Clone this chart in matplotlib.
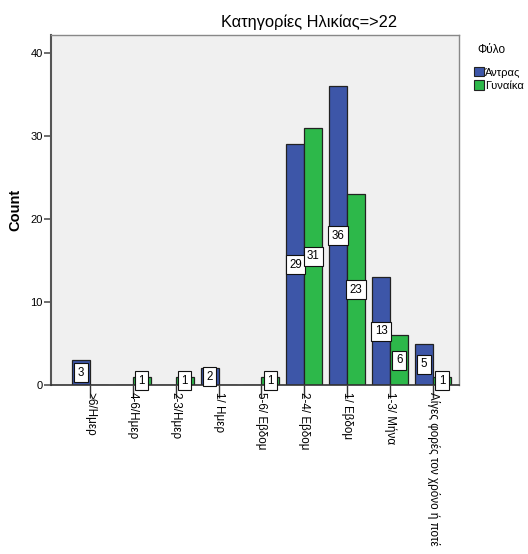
import matplotlib
matplotlib.use("Agg")
import matplotlib.pyplot as plt
import numpy as np
from matplotlib.patches import Patch

plt.rcParams['font.family'] = ['Liberation Sans', 'DejaVu Sans']

title = "Κατηγορίες Ηλικίας=>22"
categories = [">6/Ημερ", "4-6/Ημερ", "2-3/Ημερ", "1/ Ημερ", "5-6/ Εβδομ",
              "2-4/ Εβδομ", "1/ Εβδομ", "1-3/ Μήνα", "Λίγες φορές τον χρόνο ή ποτέ"]
series_names = ["Άντρας", "Γυναίκα"]
men = [3, 0, 0, 2, 0, 29, 36, 13, 5]
women = [0, 1, 1, 0, 1, 31, 23, 6, 1]
yticks = [0, 10, 20, 30, 40]

colors = ["#3d56a8", "#2db84a"]
fig = plt.figure(figsize=(5.28, 5.54), dpi=100)
ax = fig.add_axes([51/528, 1-385/554, 408/528, 350/554])
ax.set_facecolor("#f0f0f0")

x = np.arange(len(categories))
w = 0.42
for vals, off, col in [(men, -w/2, colors[0]), (women, w/2, colors[1])]:
    bars = ax.bar(x + off, vals, width=w, color=col, edgecolor="#222222", linewidth=0.9, zorder=2)
    for b, v in zip(bars, vals):
        if v > 0:
            ax.text(b.get_x() + b.get_width()/2, v/2, str(v), ha="center", va="center",
                    fontsize=8.3, zorder=3,
                    bbox=dict(boxstyle="square,pad=0.3", fc="white", ec="#111111", lw=0.8))

ax.set_xlim(-0.907, 8.605)
ax.set_ylim(0, 42.2)
ax.set_yticks(yticks)
ax.set_yticklabels([str(t) for t in yticks], fontsize=8)
ax.set_xticks(x)
ax.set_xticklabels(categories, rotation=270, fontsize=8.4, ha="center", va="top")
ax.tick_params(axis="x", length=9, width=1.0, color="#333333", pad=-4, direction="out")
ax.tick_params(axis="y", length=5, width=1.2, color="#555555", pad=1)
for s in ["top", "right"]:
    ax.spines[s].set_color("#888888")
    ax.spines[s].set_linewidth(1.0)
ax.spines["left"].set_color("#555555")
ax.spines["left"].set_linewidth(1.5)
ax.spines["bottom"].set_color("#333333")
ax.spines["bottom"].set_linewidth(1.2)

ax.set_ylabel("Count", fontsize=10.5, fontweight="bold", labelpad=6)

fig.text(309/528, 1-22/554, title, ha="center", va="center", fontsize=11.8)

handles = [Patch(facecolor=c, edgecolor="#222222", linewidth=0.8) for c in colors]
leg = fig.legend(handles, series_names, title="Φύλο", loc="upper left",
                 bbox_to_anchor=(474/528, 1-44/554), frameon=False, fontsize=8,
                 title_fontsize=8.5, handlelength=0.9, handleheight=0.9,
                 handletextpad=0.1, labelspacing=0.25, borderpad=0, borderaxespad=0,
                 alignment="left")
leg._legend_box.sep = 8
leg.get_title().set_position((3, 0))

fig.savefig("out.png", dpi=100)
